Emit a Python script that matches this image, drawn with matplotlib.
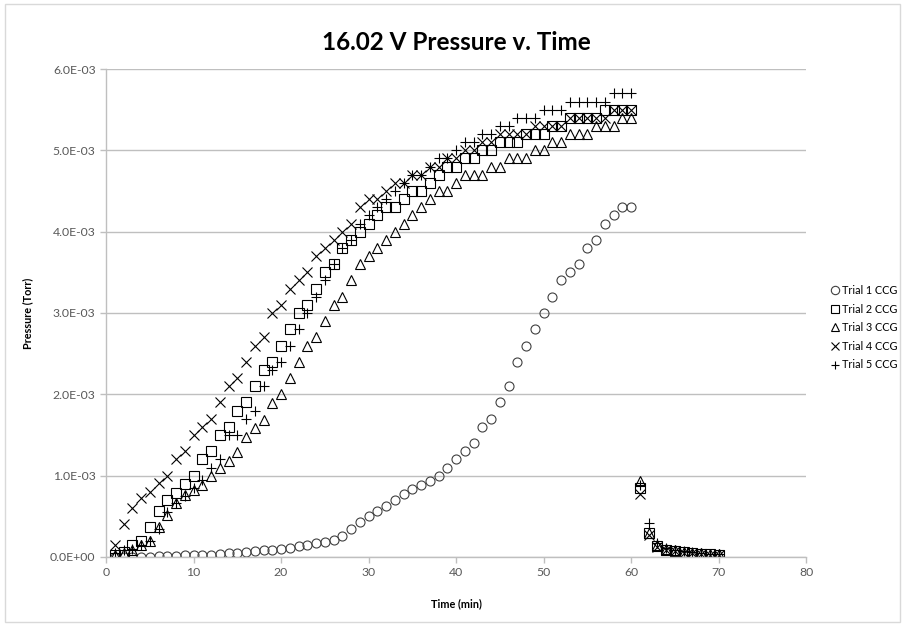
import matplotlib
matplotlib.use("Agg")
import matplotlib.pyplot as plt
from matplotlib.ticker import FuncFormatter, MultipleLocator
from matplotlib.patches import Rectangle

plt.rcParams['font.family'] = ['Lato', 'DejaVu Sans']

# tiempo (min)
t_trial1 = list(range(1, 61))
t_trials = list(range(1, 71))

# Presion (Torr x 1e-3)
trial1 = [0.0, 0.0, 0.0, 0.0, 0.0, 0.01, 0.01, 0.01, 0.02, 0.02,
          0.03, 0.03, 0.04, 0.05, 0.05, 0.06, 0.07, 0.08, 0.09, 0.1,
          0.11, 0.13, 0.15, 0.17, 0.19, 0.21, 0.26, 0.34, 0.43, 0.5,
          0.56, 0.63, 0.7, 0.77, 0.83, 0.88, 0.94, 1.0, 1.09, 1.2,
          1.3, 1.4, 1.6, 1.7, 1.9, 2.1, 2.4, 2.6, 2.8, 3.0,
          3.2, 3.4, 3.5, 3.6, 3.8, 3.9, 4.1, 4.2, 4.3, 4.3]

trial2 = [0.03, 0.06, 0.15, 0.2, 0.37, 0.57, 0.7, 0.79, 0.9, 1.0,
          1.2, 1.3, 1.5, 1.6, 1.8, 1.9, 2.1, 2.3, 2.4, 2.6,
          2.8, 3.0, 3.1, 3.3, 3.5, 3.6, 3.8, 3.9, 4.0, 4.1,
          4.2, 4.3, 4.3, 4.4, 4.5, 4.5, 4.6, 4.7, 4.8, 4.8,
          4.9, 4.9, 5.0, 5.0, 5.1, 5.1, 5.1, 5.2, 5.2, 5.2,
          5.3, 5.3, 5.4, 5.4, 5.4, 5.4, 5.5, 5.5, 5.5, 5.5,
          0.85, 0.3, 0.13, 0.09, 0.07, 0.06, 0.05, 0.04, 0.04, 0.03]

trial3 = [0.02, 0.05, 0.08, 0.15, 0.2, 0.37, 0.52, 0.66, 0.76, 0.82,
          0.89, 0.99, 1.09, 1.18, 1.29, 1.48, 1.58, 1.69, 1.89, 2.0,
          2.2, 2.4, 2.6, 2.7, 2.9, 3.1, 3.2, 3.4, 3.6, 3.7,
          3.8, 3.9, 4.0, 4.1, 4.2, 4.3, 4.4, 4.5, 4.5, 4.6,
          4.7, 4.7, 4.7, 4.8, 4.8, 4.9, 4.9, 4.9, 5.0, 5.0,
          5.1, 5.1, 5.2, 5.2, 5.2, 5.3, 5.3, 5.3, 5.4, 5.4,
          0.93, 0.3, 0.15, 0.1, 0.08, 0.06, 0.05, 0.05, 0.04, 0.04]

trial4 = [0.15, 0.4, 0.6, 0.72, 0.8, 0.91, 1.0, 1.2, 1.3, 1.5,
          1.6, 1.7, 1.9, 2.1, 2.2, 2.4, 2.6, 2.7, 3.0, 3.1,
          3.3, 3.4, 3.5, 3.7, 3.8, 3.9, 4.0, 4.1, 4.3, 4.4,
          4.4, 4.5, 4.6, 4.6, 4.7, 4.7, 4.8, 4.8, 4.9, 4.9,
          5.0, 5.0, 5.1, 5.1, 5.2, 5.2, 5.2, 5.2, 5.3, 5.3,
          5.3, 5.3, 5.4, 5.4, 5.4, 5.4, 5.4, 5.5, 5.5, 5.5,
          0.78, 0.27, 0.12, 0.09, 0.07, 0.05, 0.05, 0.04, 0.03, 0.03]

trial5 = [0.05, 0.08, 0.1, 0.15, 0.2, 0.35, 0.55, 0.66, 0.75, 0.85,
          0.95, 1.1, 1.2, 1.5, 1.5, 1.7, 1.8, 2.1, 2.3, 2.4,
          2.6, 2.8, 3.0, 3.2, 3.4, 3.6, 3.8, 3.9, 4.1, 4.2,
          4.3, 4.4, 4.5, 4.6, 4.7, 4.7, 4.8, 4.9, 4.9, 5.0,
          5.1, 5.1, 5.2, 5.2, 5.3, 5.3, 5.4, 5.4, 5.4, 5.5,
          5.5, 5.5, 5.6, 5.6, 5.6, 5.6, 5.6, 5.7, 5.7, 5.7,
          0.88, 0.42, 0.17, 0.11, 0.08, 0.07, 0.06, 0.05, 0.04, 0.04]

labels = ["Trial 1 CCG", "Trial 2 CCG", "Trial 3 CCG", "Trial 4 CCG", "Trial 5 CCG"]

fig = plt.figure(figsize=(9.04, 6.24), dpi=100)
ax = fig.add_axes([0.1173, 0.1074, 0.7743, 0.782])

# borde exterior del grafico
fig.patches.append(Rectangle((0.006, 0.004), 0.99, 0.99, transform=fig.transFigure,
                             fill=False, edgecolor="#d9d9d9", linewidth=1.0))

kw = dict(linestyle="none", markerfacecolor="none", markeredgecolor="black", markeredgewidth=0.8)
ax.plot(t_trial1, [v * 1e-3 for v in trial1], marker="o", markersize=6.5,
        label=labels[0], **{**kw, "markeredgecolor": "#404040"})
ax.plot(t_trials, [v * 1e-3 for v in trial2], marker="s", markersize=6.5, label=labels[1], **kw)
ax.plot(t_trials, [v * 1e-3 for v in trial3], marker="^", markersize=6.8, label=labels[2], **kw)
ax.plot(t_trials, [v * 1e-3 for v in trial4], marker="x", markersize=6.8, label=labels[3], **kw)
ax.plot(t_trials, [v * 1e-3 for v in trial5], marker="+", markersize=7.8, label=labels[4], **kw)

ax.set_xlim(0, 80)
ax.set_ylim(0, 6e-3)
ax.xaxis.set_major_locator(MultipleLocator(10))
ax.yaxis.set_major_locator(MultipleLocator(1e-3))
ax.yaxis.set_major_formatter(FuncFormatter(lambda v, p: "%.1E" % v))

ax.grid(axis="y", color="#bfbfbf", linewidth=1.0)
ax.set_axisbelow(True)
for s in ["top", "right"]:
    ax.spines[s].set_visible(False)
for s in ["left", "bottom"]:
    ax.spines[s].set_color("#bfbfbf")
    ax.spines[s].set_linewidth(1.0)
ax.tick_params(colors="#bfbfbf", labelcolor="#595959", labelsize=8.8, length=4, width=1)

ax.set_title("16.02 V Pressure v. Time", fontsize=17.5, fontweight="bold", pad=14)
ax.set_xlabel("Time (min)", fontsize=7.8, fontweight="bold", labelpad=14)
ax.set_ylabel("Pressure (Torr)", fontsize=7.8, fontweight="bold", labelpad=12)

leg = ax.legend(loc="center left", bbox_to_anchor=(1.026, 0.47), frameon=False, fontsize=7.8,
                handlelength=0.6, handletextpad=0.3, labelspacing=0.7, borderaxespad=0.3)
for h in leg.legend_handles:
    h.set_markersize(6)

fig.savefig("out.png", dpi=100)
